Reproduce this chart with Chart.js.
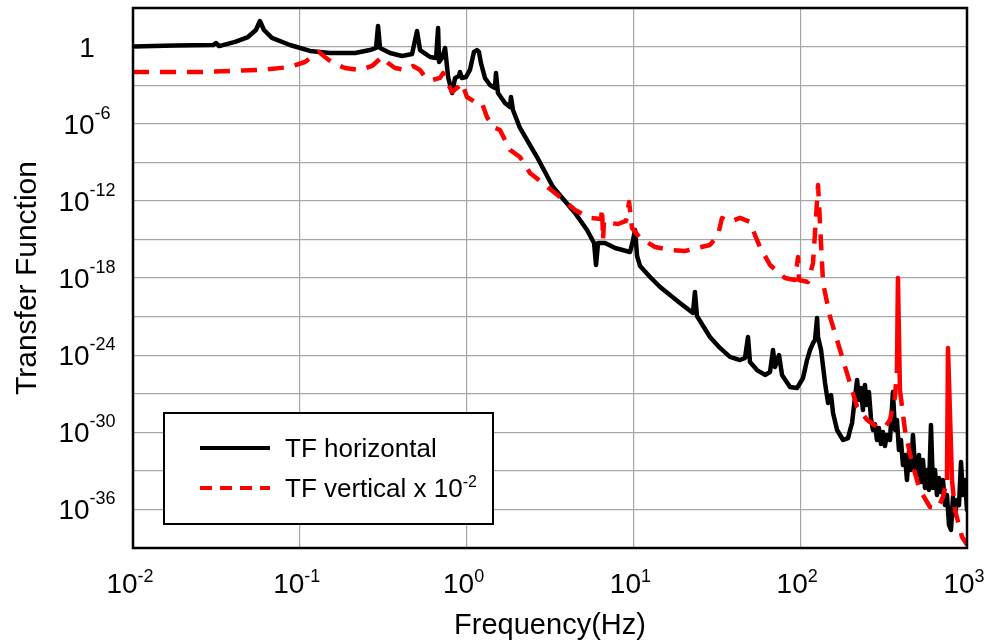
<!DOCTYPE html>
<html><head><meta charset="utf-8">
<script src="https://cdn.jsdelivr.net/npm/chart.js@4/dist/chart.umd.min.js"></script>
<style>html,body{margin:0;padding:0;background:#fff;}canvas{display:block;}</style>
</head><body>
<canvas id="c" width="992" height="643"></canvas>
<script>
// ---- Data (frequency and magnitude given as decade exponents) ----
const xTickExps = [-2, -1, 0, 1, 2, 3];
const yGridExps = [0, -3, -6, -9, -12, -15, -18, -21, -24, -27, -30, -33, -36];
const yLabelExps = [0, -6, -12, -18, -24, -30, -36];

// TF horizontal: log10(frequency / Hz)
const hFreqExp = [-2.000,-1.748,-1.520,-1.502,-1.484,-1.388,-1.311,-1.263,-1.239,-1.215,
-1.167,-1.059,-0.939,-0.819,-0.669,-0.579,-0.543,-0.531,-0.519,-0.459,
-0.387,-0.327,-0.297,-0.279,-0.219,-0.183,-0.171,-0.165,-0.147,-0.129,
-0.111,-0.087,-0.069,-0.046,-0.040,-0.028,-0.004,0.020,0.044,0.062,
0.074,0.086,0.110,0.140,0.170,0.176,0.188,0.230,0.260,0.266,
0.278,0.320,0.422,0.518,0.650,0.722,0.764,0.776,0.788,0.830,
0.890,0.980,0.998,1.010,1.022,1.040,1.100,1.160,1.279,1.357,
1.369,1.381,1.459,1.519,1.579,1.639,1.669,1.687,1.699,1.741,
1.789,1.819,1.837,1.849,1.873,1.891,1.939,1.981,2.017,2.041,
2.059,2.077,2.089,2.101,2.107,2.125,2.149,2.167,2.185,2.197,
2.221,2.257,2.287,2.299,2.311,2.323,2.341,2.353,2.365,2.376,
2.388,2.400,2.412,2.424,2.436,2.448,2.460,2.472,2.484,2.496,
2.508,2.520,2.538,2.556,2.568,2.580,2.592,2.604,2.616,2.628,
2.640,2.652,2.664,2.676,2.688,2.700,2.712,2.724,2.736,2.748,
2.760,2.772,2.784,2.796,2.808,2.820,2.832,2.844,2.856,2.868,
2.880,2.892,2.904,2.916,2.928,2.940,2.952,2.964,2.976,2.988,
3.000];
// TF horizontal: log10(magnitude)
const hValExp = [0,0.08,0.12,0.28,0.04,0.36,0.74,1.29,1.99,1.29,
0.67,0.12,-0.34,-0.50,-0.50,-0.27,-0.11,1.60,-0.11,-0.50,
-0.73,-0.58,1.21,-0.27,-0.81,-0.89,1.44,-1.20,-0.89,-0.11,
-2.37,-3.61,-2.44,-2.29,-1.98,-2.44,-2.37,-1.82,-0.42,-0.27,
-0.42,-1.28,-2.44,-2.99,-3.22,-2.06,-3.61,-4.39,-4.70,-3.92,
-4.93,-6.33,-8.59,-10.92,-12.94,-14.27,-15.28,-16.99,-15.28,-15.28,
-15.67,-15.98,-15.04,-14.27,-16.29,-17.07,-17.92,-18.70,-19.94,-20.72,
-19.09,-20.96,-22.59,-23.44,-24.14,-24.38,-24.22,-22.59,-24.53,-25.16,
-25.54,-25.31,-23.60,-24.92,-23.99,-25.54,-26.48,-26.56,-25.78,-24.38,
-23.60,-23.06,-22.82,-21.11,-22.59,-23.60,-26.17,-27.72,-27.10,-28.50,
-29.82,-30.60,-30.45,-29.82,-29.28,-27.88,-25.93,-27.49,-26.56,-28.27,
-26.32,-27.88,-26.87,-28.89,-29.82,-29.36,-30.60,-29.67,-30.91,-29.98,
-31.07,-30.21,-30.60,-26.87,-29.82,-29.04,-31.38,-30.60,-32.55,-31.77,
-33.71,-31.53,-32.93,-30.21,-32.55,-33.32,-31.77,-33.87,-32.16,-34.33,
-32.93,-34.49,-29.43,-34.33,-32.93,-34.88,-33.56,-34.65,-33.71,-35.66,
-34.88,-37.21,-37.60,-35.03,-36.43,-35.27,-35.66,-32.31,-34.88,-33.71,
-36.04];

// TF vertical x 1e-2: log10(frequency / Hz)
const vFreqExp = [-2.000,-1.598,-1.239,-1.059,-0.969,-0.921,-0.885,-0.849,-0.801,-0.729,
-0.639,-0.567,-0.507,-0.471,-0.429,-0.369,-0.321,-0.279,-0.249,-0.207,
-0.159,-0.141,-0.117,-0.087,-0.051,-0.028,0.002,0.050,0.092,0.122,
0.158,0.200,0.260,0.320,0.380,0.470,0.560,0.650,0.740,0.806,
0.812,0.818,0.824,0.860,0.908,0.956,0.974,0.992,1.040,1.130,
1.220,1.309,1.381,1.459,1.507,1.531,1.579,1.639,1.699,1.729,
1.759,1.819,1.909,1.969,1.987,1.993,2.047,2.077,2.107,2.137,
2.179,2.239,2.299,2.341,2.401,2.461,2.508,2.538,2.568,2.580,
2.586,2.598,2.628,2.670,2.718,2.778,2.826,2.856,2.880,2.886,
2.910,2.928,2.970,3.000];
// TF vertical x 1e-2: log10(magnitude)
const vValExp = [-1.98,-1.98,-1.82,-1.59,-1.20,-0.73,-0.42,-0.81,-1.28,-1.67,
-1.82,-1.51,-0.81,-1.28,-1.67,-1.82,-1.51,-1.82,-2.37,-2.60,
-2.44,-2.06,-2.76,-3.53,-3.14,-2.83,-3.92,-4.31,-4.39,-5.48,
-6.26,-6.49,-8.04,-8.59,-9.83,-10.77,-11.70,-12.71,-13.33,-13.41,
-12.56,-15.04,-13.56,-13.72,-13.80,-13.56,-12.09,-14.11,-14.89,-15.59,
-15.82,-15.90,-15.67,-15.43,-14.66,-13.33,-13.64,-13.33,-13.64,-14.66,
-15.59,-16.99,-18.00,-18.16,-16.37,-18.16,-18.31,-16.83,-10.77,-18.39,
-21.03,-23.60,-26.20,-28.03,-29.04,-29.59,-29.59,-29.04,-27.26,-25.16,
-18.00,-26.71,-29.82,-32.39,-34.49,-35.81,-35.89,-35.03,-33.71,-23.44,
-33.71,-36.04,-38.13,-38.75];

const FONT = "'Liberation Sans', Arial, Helvetica, sans-serif";

const toPoints = (fx, vy) => fx.map((f, i) => ({ x: Math.pow(10, f), y: Math.pow(10, vy[i]) }));

function drawPow(ctx, base, sup, cx, by, sy, bs, ss) {
  ctx.font = bs + 'px ' + FONT;
  const wb = ctx.measureText(base).width;
  ctx.font = ss + 'px ' + FONT;
  const ws = sup ? ctx.measureText(sup).width : 0;
  const x0 = cx - (wb + ws) / 2;
  ctx.fillStyle = '#000';
  ctx.textAlign = 'left';
  ctx.textBaseline = 'alphabetic';
  ctx.font = bs + 'px ' + FONT;
  ctx.fillText(base, x0, by);
  if (sup) { ctx.font = ss + 'px ' + FONT; ctx.fillText(sup, x0 + wb, sy); }
}

const decor = {
  id: 'decor',
  afterDatasetsDraw(chart) {
    const ctx = chart.ctx, ca = chart.chartArea, xs = chart.scales.x, ys = chart.scales.y;
    ctx.save();
    // plot frame
    ctx.strokeStyle = '#000'; ctx.lineWidth = 2.5;
    ctx.strokeRect(ca.left, ca.top, ca.right - ca.left, ca.bottom - ca.top);
    // y tick labels
    yLabelExps.forEach(e => {
      const ty = ys.getPixelForValue(Math.pow(10, e));
      drawPow(ctx, e === 0 ? '1' : '10', e === 0 ? '' : String(e), 87, ty + 10, ty - 5, 28, 18);
    });
    // x tick labels
    xTickExps.forEach(e => {
      const tx = xs.getPixelForValue(Math.pow(10, e));
      drawPow(ctx, '10', String(e), tx - 3, ca.bottom + 45, ca.bottom + 34, 28, 18);
    });
    // legend
    const lx = ca.left + 31, ly = ca.bottom - 135, lw = 329, lh = 111;
    ctx.fillStyle = '#fff';
    ctx.fillRect(lx, ly, lw, lh);
    ctx.strokeStyle = '#000'; ctx.lineWidth = 2;
    ctx.strokeRect(lx, ly, lw, lh);
    const ds = chart.data.datasets;
    // row 1
    let ry = ly + 35;
    ctx.beginPath(); ctx.setLineDash([]); ctx.lineWidth = 4; ctx.strokeStyle = ds[0].borderColor;
    ctx.moveTo(lx + 36, ry); ctx.lineTo(lx + 106, ry); ctx.stroke();
    ctx.fillStyle = '#000'; ctx.font = '26px ' + FONT; ctx.textAlign = 'left'; ctx.textBaseline = 'alphabetic';
    ctx.fillText(ds[0].label, lx + 121, ry + 9);
    // row 2
    ry = ly + 75;
    ctx.beginPath(); ctx.setLineDash([12, 8]); ctx.lineWidth = 4; ctx.strokeStyle = ds[1].borderColor;
    ctx.moveTo(lx + 36, ry); ctx.lineTo(lx + 106, ry); ctx.stroke();
    ctx.setLineDash([]);
    ctx.font = '26px ' + FONT;
    const baseTxt = 'TF vertical x 10';
    ctx.fillText(baseTxt, lx + 121, ry + 9);
    const w = ctx.measureText(baseTxt).width;
    ctx.font = '16px ' + FONT;
    ctx.fillText('-2', lx + 121 + w, ry - 1);
    ctx.restore();
  }
};

new Chart(document.getElementById('c'), {
  type: 'line',
  data: {
    datasets: [
      { label: 'TF horizontal', data: toPoints(hFreqExp, hValExp), borderColor: '#000000', borderWidth: 4.5,
        pointRadius: 0, tension: 0, fill: false, borderJoinStyle: 'round', borderCapStyle: 'round', order: 2 },
      { label: 'TF vertical x 10^-2', data: toPoints(vFreqExp, vValExp), borderColor: '#ff0000', borderWidth: 4.5,
        borderDash: [16, 11], pointRadius: 0, tension: 0, fill: false, borderJoinStyle: 'round', order: 1,
        segment: { borderDash: c => (Math.abs(c.p1.x - c.p0.x) <= 4.5 && Math.abs(c.p1.y - c.p0.y) > 50) ? [] : undefined } }
    ]
  },
  options: {
    responsive: false, animation: false, devicePixelRatio: 1,
    layout: { padding: { top: 8, right: 25, left: 0, bottom: 0 } },
    plugins: { legend: { display: false }, tooltip: { enabled: false } },
    scales: {
      x: {
        type: 'logarithmic', min: 0.01, max: 1000,
        afterBuildTicks: s => { s.ticks = xTickExps.map(e => ({ value: Math.pow(10, e) })); },
        afterFit: s => { s.height = 95; },
        ticks: { display: false },
        grid: { color: '#a6a6a6', lineWidth: 1.2, drawTicks: false },
        border: { display: false },
        title: { display: true, text: 'Frequency(Hz)', color: '#000', font: { family: FONT, size: 29 }, padding: { top: 0, bottom: 0 } }
      },
      y: {
        type: 'logarithmic', min: 1e-39, max: 1e3,
        afterBuildTicks: s => { s.ticks = yGridExps.map(e => ({ value: Math.pow(10, e) })); },
        afterFit: s => { s.width = 133; },
        ticks: { display: false },
        grid: { color: '#a6a6a6', lineWidth: 1.2, drawTicks: false },
        border: { display: false },
        title: { display: true, text: 'Transfer Function', color: '#000', font: { family: FONT, size: 30 }, padding: { top: 10, bottom: 0 } }
      }
    }
  },
  plugins: [decor]
});
</script>
</body></html>
